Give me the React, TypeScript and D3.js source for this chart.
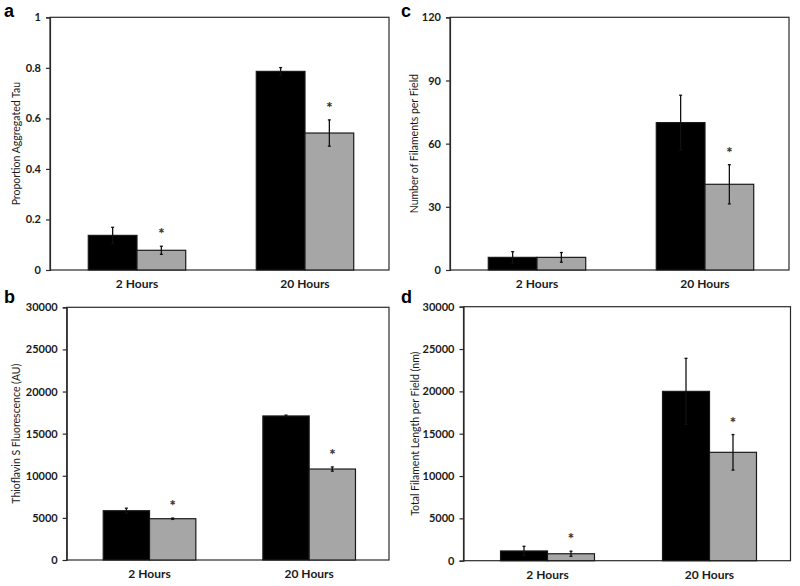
import React, { useEffect, useRef } from "react";
import * as d3 from "d3";

const categories = ["2 Hours", "20 Hours"];

const aControl = [0.137, 0.786];
const aControlErr = [0.032, 0.015];
const aTreated = [0.078, 0.542];
const aTreatedErr = [0.016, 0.052];
const aTicks = [0, 0.2, 0.4, 0.6, 0.8, 1];
const aTickLabels = ["0", "0.2", "0.4", "0.6", "0.8", "1"];

const bControl = [5850, 17100];
const bControlErr = [300, 100];
const bTreated = [4900, 10800];
const bTreatedErr = [80, 250];
const bTicks = [0, 5000, 10000, 15000, 20000, 25000, 30000];

const cControl = [6, 70];
const cControlErr = [2.7, 13];
const cTreated = [6, 40.7];
const cTreatedErr = [2.3, 9.3];
const cTicks = [0, 30, 60, 90, 120];

const dControl = [1150, 20000];
const dControlErr = [550, 3900];
const dTreated = [820, 12800];
const dTreatedErr = [300, 2100];
const dTicks = [0, 5000, 10000, 15000, 20000, 25000, 30000];

const starA = [false, true, false, true];
const starB = [false, true, false, true];
const starC = [false, false, false, true];
const starD = [false, true, false, true];

type Panel = {
  letter: string;
  title: string;
  x0: number; x1: number; y0: number; y1: number;
  max: number;
  ticks: number[];
  tickLabels: string[];
  control: number[]; controlErr: number[];
  treated: number[]; treatedErr: number[];
  stars: boolean[];
  letterX: number; letterY: number;
  titleX: number;
};

const panels: Panel[] = [
  {
    letter: "a", title: "Proportion Aggregated Tau",
    x0: 50, x1: 389, y0: 17.3, y1: 270, max: 1,
    ticks: aTicks, tickLabels: aTickLabels,
    control: aControl, controlErr: aControlErr, treated: aTreated, treatedErr: aTreatedErr,
    stars: starA, letterX: 4, letterY: 17, titleX: 17,
  },
  {
    letter: "b", title: "Thioflavin S Fluorescence (AU)",
    x0: 66.7, x1: 389, y0: 307.3, y1: 560, max: 30000,
    ticks: bTicks, tickLabels: bTicks.map(String),
    control: bControl, controlErr: bControlErr, treated: bTreated, treatedErr: bTreatedErr,
    stars: starB, letterX: 4, letterY: 303, titleX: 17,
  },
  {
    letter: "c", title: "Number of Filaments per Field",
    x0: 450, x1: 789, y0: 17.3, y1: 270, max: 120,
    ticks: cTicks, tickLabels: cTicks.map(String),
    control: cControl, controlErr: cControlErr, treated: cTreated, treatedErr: cTreatedErr,
    stars: starC, letterX: 401, letterY: 17, titleX: 415,
  },
  {
    letter: "d", title: "Total Filament Length per Field (nm)",
    x0: 463.5, x1: 790.5, y0: 306.7, y1: 560.7, max: 30000,
    ticks: dTicks, tickLabels: dTicks.map(String),
    control: dControl, controlErr: dControlErr, treated: dTreated, treatedErr: dTreatedErr,
    stars: starD, letterX: 401, letterY: 303, titleX: 416,
  },
];

const FONT = "Lato, 'Open Sans', sans-serif";

export default function App() {
  const ref = useRef<SVGSVGElement | null>(null);

  useEffect(() => {
    const svg = d3.select(ref.current);
    svg.selectAll("*").remove();

    panels.forEach((p) => {
      const g = svg.append("g");
      const y = d3.scaleLinear().domain([0, p.max]).range([p.y1, p.y0]);
      const x = d3.scaleBand<string>().domain(categories).range([p.x0 + 3, p.x1]).paddingInner(0.42).paddingOuter(0.21);
      const sub = d3.scaleBand<string>().domain(["control", "treated"]).range([0, x.bandwidth()]);

      g.append("rect")
        .attr("x", p.x0).attr("y", p.y0)
        .attr("width", p.x1 - p.x0).attr("height", p.y1 - p.y0)
        .attr("fill", "none").attr("stroke", "#2a2a2a").attr("stroke-width", 1.2);

      const yAxis = d3.axisLeft(y).tickValues(p.ticks).tickSize(4).tickPadding(5)
        .tickFormat((_, i) => p.tickLabels[i]);
      const ya = g.append("g").attr("transform", `translate(${p.x0},0)`).call(yAxis);
      ya.select(".domain").attr("stroke", "#2a2a2a").attr("stroke-width", 1.2);
      ya.selectAll(".tick line").attr("stroke", "#2a2a2a").attr("stroke-width", 1.2);
      ya.selectAll(".tick text")
        .attr("font-family", FONT).attr("font-weight", 700).attr("font-size", 11).attr("fill", "#1a1a1a");

      categories.forEach((c) => {
        g.append("text")
          .attr("x", (x(c) as number) + x.bandwidth() / 2)
          .attr("y", p.y1 + 18)
          .attr("text-anchor", "middle")
          .attr("font-family", FONT).attr("font-weight", 700).attr("font-size", 12)
          .attr("fill", "#1a1a1a")
          .text(c);
      });

      const series = [
        { key: "control", vals: p.control, errs: p.controlErr, fill: "#000000" },
        { key: "treated", vals: p.treated, errs: p.treatedErr, fill: "#a6a6a6" },
      ];
      series.forEach((s, si) => {
        categories.forEach((c, ci) => {
          const bx = (x(c) as number) + (sub(s.key) as number);
          const bw = sub.bandwidth();
          const v = s.vals[ci];
          g.append("rect")
            .attr("x", bx).attr("y", y(v))
            .attr("width", bw).attr("height", y(0) - y(v))
            .attr("fill", s.fill).attr("stroke", "#1a1a1a").attr("stroke-width", 1.2);
          const cx = bx + bw / 2;
          const e = s.errs[ci];
          const top = y(v + e);
          const bot = y(v - e);
          const col = "#111";
          g.append("line").attr("x1", cx).attr("x2", cx).attr("y1", top).attr("y2", bot)
            .attr("stroke", col).attr("stroke-width", 1.3);
          g.append("line").attr("x1", cx - 1.5).attr("x2", cx + 1.5).attr("y1", top).attr("y2", top)
            .attr("stroke", col).attr("stroke-width", 1.3);
          g.append("line").attr("x1", cx - 1.5).attr("x2", cx + 1.5).attr("y1", bot).attr("y2", bot)
            .attr("stroke", col).attr("stroke-width", 1.3);
          if (p.stars[ci * 2 + si]) {
            g.append("text")
              .attr("x", cx).attr("y", top - 7)
              .attr("text-anchor", "middle")
              .attr("font-family", FONT).attr("font-weight", 900).attr("font-size", 15)
              .attr("fill", "#333")
              .text("*");
          }
        });
      });

      const cy = (p.y0 + p.y1) / 2;
      g.append("text")
        .attr("transform", `translate(${p.titleX},${cy}) rotate(-90)`)
        .attr("text-anchor", "middle")
        .attr("dominant-baseline", "middle")
        .attr("font-family", FONT).attr("font-size", 10.5).attr("fill", "#1a1a1a")
        .text(p.title);

      g.append("text")
        .attr("x", p.letterX).attr("y", p.letterY)
        .attr("font-family", "'Liberation Sans', Arial, sans-serif")
        .attr("font-weight", 700).attr("font-size", 18).attr("fill", "#000")
        .text(p.letter);
    });
  }, []);

  return (
    <svg
      ref={ref}
      width={800}
      height={586}
      style={{ position: "absolute", left: 0, top: 0, background: "#fff" }}
    />
  );
}
